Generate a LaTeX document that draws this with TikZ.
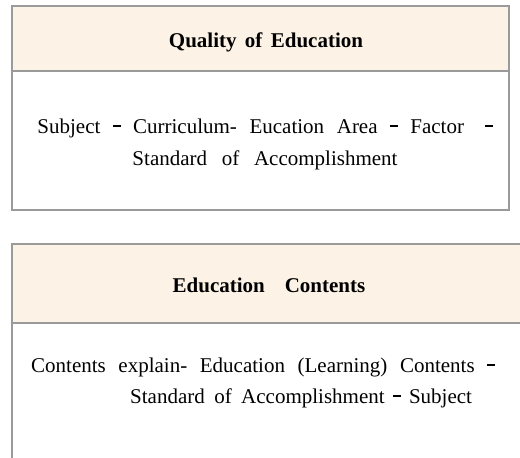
\documentclass[tikz,border=0pt]{standalone}
\usepackage{fontspec}
\setmainfont{Liberation Serif}
\definecolor{hdr}{HTML}{FCF3E6}
\definecolor{brd}{HTML}{9A9A9A}
\newcommand{\dsh}{\raisebox{0.3em}{\rule{0.36em}{0.07em}}}
\newcommand{\widesp}{\spaceskip=0.6em\relax}
\newcommand{\midsp}{\spaceskip=0.45em\relax}
\tikzset{
  boxline/.style={draw=brd, line width=2.6pt},
  titletext/.style={font=\fontsize{21}{25}\selectfont\bfseries, inner sep=0pt},
  bodytext/.style={font=\fontsize{21}{25}\selectfont\widesp, inner sep=0pt, anchor=base}
}
\begin{document}
\begin{tikzpicture}[x=1pt,y=-1pt]
\useasboundingbox (0,0) rectangle (520,458);
% top box
\fill[hdr] (12,6) rectangle (509,71);
\draw[boxline] (12,6) rectangle (509,210);
\draw[boxline] (12,71) -- (509,71);
\node[titletext] (t1) at (266,42) {Quality\hspace{0.15em} of\hspace{0.15em} Education};
\node[bodytext] (b1a) at (265,133) {Subject \dsh{} Curriculum- Eucation Area \dsh{} Factor \hspace{0.4em}\dsh};
\node[bodytext] (b1b) at (265,165) {Standard\hspace{0.1em} of\hspace{0.1em} Accomplishment};
% bottom box
\fill[hdr] (12,244) rectangle (521,323);
\draw[boxline] (521,244) -- (12,244) -- (12,460);
\draw[boxline] (12,323) -- (521,323);
\node[titletext] (t2) at (269,285) {Education\hspace{0.7em} Contents};
\node[bodytext] (b2a) at (263,372) {Contents explain- Education (Learning) Contents \dsh};
\node[bodytext, anchor=base west, font=\fontsize{21}{25}\selectfont\midsp] (b2b) at (130,403) {Standard of Accomplishment\hspace{0.4em}\dsh\hspace{0.4em}Subject};
\end{tikzpicture}
\end{document}
